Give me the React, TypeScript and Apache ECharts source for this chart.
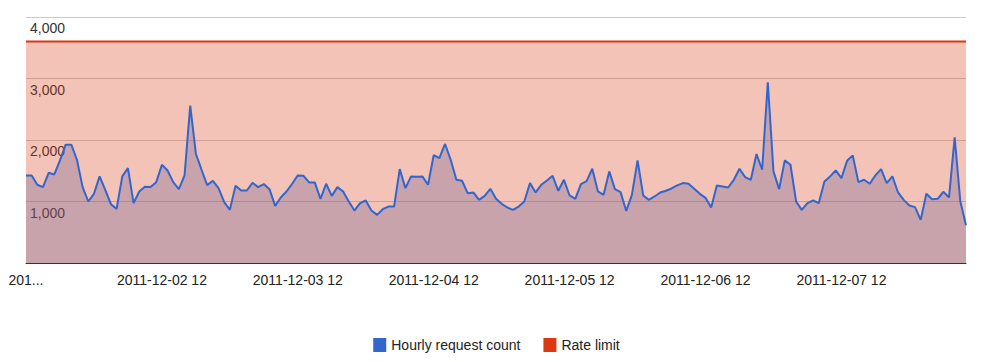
import React, { useEffect, useRef } from "react";
import * as echarts from "echarts";

// Hourly request counts (2011-12-01 12:00 onwards)
const HOURLY_PART1 = [
  1424, 1424, 1272, 1234, 1467, 1440, 1668, 1924, 1924, 1679, 1234, 1000, 1125, 1408,
  1190, 957, 880, 1408, 1543, 973, 1163, 1239, 1234, 1315, 1598, 1505, 1315, 1201, 1424,
  2560, 1777, 1516, 1266, 1337, 1217, 989, 864, 1255, 1179, 1179, 1304, 1234, 1283, 1201,
  929, 1065, 1163, 1288, 1424, 1418, 1310, 1310, 1043, 1288,
];
const HOURLY_PART2 = [
  1092, 1234, 1163, 1000, 853, 973, 1016, 853, 783, 875, 918, 918, 1527, 1217, 1408, 1402,
  1408, 1272, 1755, 1707, 1935, 1679, 1353, 1337, 1136, 1147, 1027, 1092, 1207, 1043, 962,
  902, 864, 918, 1000, 1299, 1147, 1272, 1342, 1418, 1174, 1353, 1098, 1043, 1283, 1332,
  1533, 1163, 1109, 1489, 1201, 1152, 848, 1109, 1668, 1098, 1027, 1082,
];
const HOURLY_PART3 = [
  1147, 1174, 1212, 1261, 1299, 1288, 1207, 1125, 1060, 902, 1261, 1245, 1228, 1353, 1533,
  1397, 1353, 1772, 1516, 2940, 1489, 1201, 1668, 1598, 1000, 864, 973, 1016, 973, 1326,
  1408, 1505, 1380, 1663, 1750, 1315, 1353, 1288, 1424, 1527, 1299, 1408, 1147, 1027, 934,
  908, 701, 1125, 1038, 1043, 1158, 1065, 2043, 1000, 614,
];
const HOURLY = [...HOURLY_PART1, ...HOURLY_PART2, ...HOURLY_PART3];

const RATE_LIMIT_VALUE = 3600;
const START_DAY = 1; // 2011-12-01
const START_HOUR = 12;

const SERIES_NAMES = ["Hourly request count", "Rate limit"];
const Y_TICKS = [0, 1000, 2000, 3000, 4000];

const pad = (n: number) => (n < 10 ? "0" + n : String(n));
const CATEGORIES: string[] = HOURLY.map((_, i) => {
  const total = START_HOUR + i;
  const day = START_DAY + Math.floor(total / 24);
  const hour = total % 24;
  return `2011-12-${pad(day)} ${pad(hour)}`;
});
const RATE_LIMIT = HOURLY.map(() => RATE_LIMIT_VALUE);

const FONT = "'Liberation Sans', Arial, sans-serif";
const BLUE = "#3366cc";
const RED = "#dc3912";

export default function App() {
  const ref = useRef<HTMLDivElement>(null);
  useEffect(() => {
    document.body.style.margin = "0";
    if (!ref.current) return;
    const chart = echarts.init(ref.current, undefined, { renderer: "svg" });
    chart.setOption({
      animation: false,
      textStyle: { fontFamily: FONT },
      grid: { left: 26, right: 27, top: 17, bottom: 99, containLabel: false },
      legend: {
        data: SERIES_NAMES,
        left: "center",
        top: 333,
        icon: "rect",
        itemWidth: 13,
        itemHeight: 14,
        itemGap: 23,
        textStyle: { fontSize: 14, color: "#222", fontFamily: FONT },
      },
      xAxis: {
        type: "category",
        data: CATEGORIES,
        boundaryGap: false,
        axisLine: { lineStyle: { color: "#333", width: 1 } },
        axisTick: { show: false },
        splitLine: { show: false },
        axisLabel: {
          interval: 23,
          margin: 10,
          fontSize: 14,
          color: "#222",
          fontFamily: FONT,
          formatter: (v: string, i: number) => (i === 0 ? "201..." : v),
        },
      },
      yAxis: {
        type: "value",
        min: Y_TICKS[0],
        max: Y_TICKS[Y_TICKS.length - 1],
        interval: 1000,
        axisLine: { show: false },
        axisTick: { show: false },
        splitLine: { lineStyle: { color: "#cccccc", width: 1 } },
        axisLabel: {
          inside: true,
          margin: 4,
          verticalAlign: "top",
          padding: [4, 0, 0, 0],
          fontSize: 14,
          color: "#333",
          fontFamily: FONT,
          textBorderColor: "#fff",
          textBorderWidth: 3,
          formatter: (v: number) => (v === 0 ? "" : v.toLocaleString("en-US")),
        },
      },
      series: [
        {
          name: SERIES_NAMES[0],
          type: "line",
          data: HOURLY,
          symbol: "none",
          z: 2,
          color: BLUE,
          lineStyle: { width: 0, color: BLUE },
          areaStyle: { color: BLUE, opacity: 0.3 },
        },
        {
          name: SERIES_NAMES[1],
          type: "line",
          data: RATE_LIMIT,
          symbol: "none",
          z: 3,
          color: RED,
          lineStyle: { width: 2, color: RED },
          areaStyle: { color: RED, opacity: 0.3 },
        },
        {
          name: SERIES_NAMES[0],
          type: "line",
          data: HOURLY,
          symbol: "none",
          z: 4,
          color: BLUE,
          lineStyle: { width: 2, color: BLUE },
        },
      ],
    });
    return () => chart.dispose();
  }, []);
  return <div ref={ref} style={{ width: 993, height: 362 }} />;
}
